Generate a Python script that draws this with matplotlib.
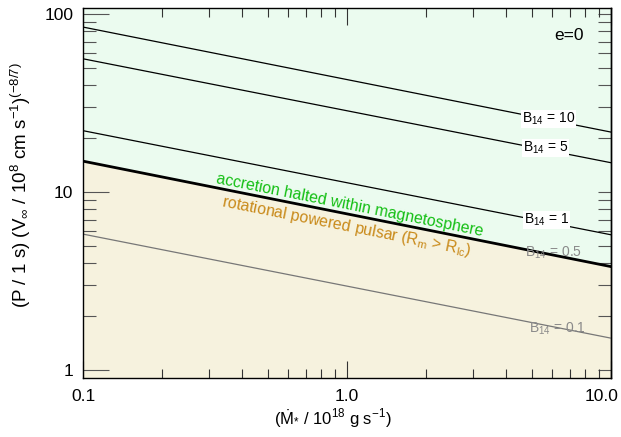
import matplotlib
matplotlib.use("Agg")
import matplotlib.pyplot as plt
import matplotlib.transforms as mtransforms
import numpy as np

plt.rcParams['font.family'] = ['Liberation Sans', 'DejaVu Sans']
plt.rcParams['mathtext.fontset'] = 'custom'
plt.rcParams['mathtext.rm'] = 'Liberation Sans'
plt.rcParams['mathtext.it'] = 'Liberation Sans:italic'

# Data: P at Mdot = 0.1 and Mdot = 10 for each B14
mdot_ends = [0.1, 10.0]
b_values = ["10", "5", "1", "0.5", "0.1"]
p_B10 = [84.4, 21.7]
p_B5 = [56.0, 14.6]
p_B1 = [22.1, 5.75]
p_B05 = [14.9, 3.81]
p_B01 = [5.8, 1.51]
xticks = [0.1, 1.0, 10.0]
xticklabels = ["0.1", "1.0", "10.0"]
yticks = [1, 10, 100]
yticklabels = ["1", "10", "100"]

fig = plt.figure(figsize=(6.21, 4.37), dpi=100)
ax = fig.add_axes([83/621, 1-378/437, (611-83)/621, (378-8)/437])
ax.set_xscale('log')
ax.set_yscale('log')
ymin, ymax = 0.902, 108.0
ax.set_xlim(0.1, 10)
ax.set_ylim(ymin, ymax)

green_bg = '#ebfbef'
beige_bg = '#f6f2de'
ax.fill_between(mdot_ends, p_B05, [ymax, ymax], color=green_bg, lw=0, zorder=0)
ax.fill_between(mdot_ends, [ymin, ymin], p_B05, color=beige_bg, lw=0, zorder=0)

ax.plot(mdot_ends, p_B10, color='black', lw=0.9, zorder=2)
ax.plot(mdot_ends, p_B5, color='black', lw=0.9, zorder=2)
ax.plot(mdot_ends, p_B1, color='black', lw=0.9, zorder=2)
ax.plot(mdot_ends, p_B05, color='black', lw=2.0, zorder=2)
ax.plot(mdot_ends, p_B01, color='#777777', lw=0.9, zorder=2)

# labels
lab_pos = {"10": (522, 119), "5": (523, 148), "1": (524, 220),
           "0.5": (525, 253), "0.1": (529, 329)}
for b in b_values:
    px, py = lab_pos[b]
    fx = (px - 83) / (611 - 83)
    fy = 1 - (py - 8) / (378 - 8)
    if b in ("10", "5", "1"):
        ax.text(fx, fy, r"B$_{\mathregular{14}}$ = " + b, transform=ax.transAxes,
                fontsize=10, color='black', ha='left', va='center', zorder=3,
                bbox=dict(facecolor='white', edgecolor='none', pad=0.5))
    else:
        ax.text(fx, fy, r"B$_{\mathregular{14}}$ = " + b, transform=ax.transAxes,
                fontsize=10, color='#8a8a8a', ha='left', va='center', zorder=3)

ang = -np.degrees(np.arctan2(105, 528))
ax.text((350-83)/528, 1-(205-8)/370, "accretion halted within magnetosphere",
        transform=ax.transAxes, rotation=ang, rotation_mode='anchor',
        ha='center', va='center', fontsize=11.4, color='#14bf14', zorder=3)
ax.text((346-83)/528, 1-(226-8)/370,
        r"rotational powered pulsar (R$_{\mathregular{m}}$ > R$_{\mathregular{lc}}$)",
        transform=ax.transAxes, rotation=ang, rotation_mode='anchor',
        ha='center', va='center', fontsize=11.4, color='#c98a1a', zorder=3)

ax.text((569-83)/528, 1-(36-8)/370, "e=0", transform=ax.transAxes,
        ha='center', va='center', fontsize=12.5, color='black')

ax.set_xticks(xticks)
ax.set_xticklabels(xticklabels)
ax.set_yticks(yticks)
ax.set_yticklabels(yticklabels)
ax.tick_params(axis='x', which='major', direction='in', length=12, width=0.8,
               top=True, bottom=True, labelsize=12.5, pad=8, color='#333333')
ax.tick_params(axis='x', which='minor', direction='in', length=6.5, width=0.8,
               top=True, bottom=True, color='#333333')
ax.tick_params(axis='y', which='major', direction='in', length=19, width=0.8,
               left=True, right=False, labelsize=12.5, pad=7, color='#555555')
ax.tick_params(axis='y', which='minor', direction='in', length=9.4, width=0.8,
               left=True, right=False, color='#555555')

# shift the last x tick label left so it stays inside the figure
last = ax.get_xticklabels()[-1]
last.set_transform(last.get_transform() +
                   mtransforms.ScaledTranslation(-9/100, 0, fig.dpi_scale_trans))

sec = ax.secondary_yaxis('right')
sec.set_yscale('log')
sec.tick_params(axis='y', which='both', direction='in', length=9.4, width=0.8,
                labelright=False, color='#555555')

for s in ax.spines.values():
    s.set_linewidth(1.0)
sec.spines['right'].set_linewidth(1.0)

ax.set_xlabel(r"($\dot{\mathregular{M}}_{*}$ / 10$^{\mathregular{18}}$ g s$^{\mathregular{-1}}$)",
              fontsize=12)
ax.xaxis.set_label_coords((333-83)/528, -(408-378)/370)
ax.set_ylabel(r"(P / 1 s) (V$_{\infty}$ / 10$^{\mathregular{8}}$ cm s$^{\mathregular{-1}}$)$^{\mathregular{(-8/7)}}$",
              fontsize=13.5)
ax.yaxis.set_label_coords((33-83)/528, 1-(185-8)/370)

fig.savefig("out.png", dpi=100)
